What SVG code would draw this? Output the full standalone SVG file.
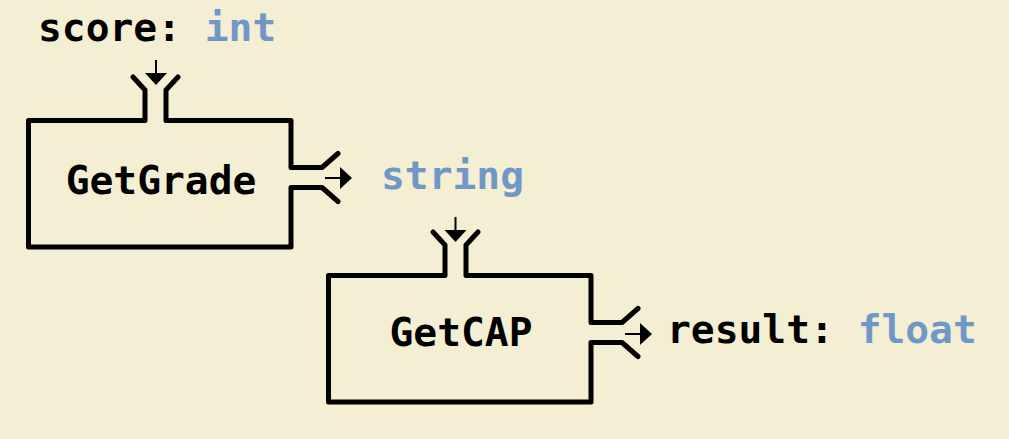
<svg xmlns="http://www.w3.org/2000/svg" width="1009" height="439" viewBox="0 0 1009 439">
<style>
.box{fill:none;stroke:#000;stroke-width:5;stroke-linecap:round;stroke-linejoin:round}
.wire{fill:none;stroke:#000;stroke-width:2}
.t{font-family:"DejaVu Sans Mono","Liberation Mono",monospace;font-weight:bold;font-size:39.6px;fill:#000}
.ty{fill:#7097c8}
</style>
<defs>
<path id="fn" d="M104.5 -43.5 L116.5 -30.5 L116.5 0 L0 0 L0 126.5 L262.5 126.5 L262.5 67 L293.5 67 L309.5 81 M309.5 33 L293.5 47 L262.5 47 L262.5 0 L137.5 0 L137.5 -30.5 L149.5 -43.5"/>
<marker id="ah" viewBox="0 0 12 22" refX="0" refY="11" markerWidth="12" markerHeight="22" markerUnits="userSpaceOnUse" orient="auto">
<path d="M0 0 L12 11 L0 22 Z" fill="#000"/>
</marker>
</defs>
<rect width="1009" height="439" fill="#f4eed2"/>
<g id="score-label"><text class="t" x="38" y="41">score: <tspan class="ty">int</tspan></text></g>
<g id="GetGrade">
<use href="#fn" class="box" transform="translate(28.5,120.5)"/>
<text class="t" x="161" y="194" text-anchor="middle">GetGrade</text>
</g>
<g id="string-label"><text class="t ty" x="381" y="189">string</text></g>
<g id="GetCAP">
<use href="#fn" class="box" transform="translate(328.5,275.5)"/>
<text class="t" x="461" y="346" text-anchor="middle">GetCAP</text>
</g>
<g id="result-label"><text class="t" x="667" y="343">result: <tspan class="ty">float</tspan></text></g>
<g id="connectors">
<line class="wire" x1="156" y1="60" x2="156" y2="73" marker-end="url(#ah)"/>
<line class="wire" x1="325" y1="178" x2="340" y2="178" marker-end="url(#ah)"/>
<line class="wire" x1="455.5" y1="217" x2="455.5" y2="230" marker-end="url(#ah)"/>
<line class="wire" x1="625" y1="334" x2="640" y2="334" marker-end="url(#ah)"/>
</g>
</svg>
